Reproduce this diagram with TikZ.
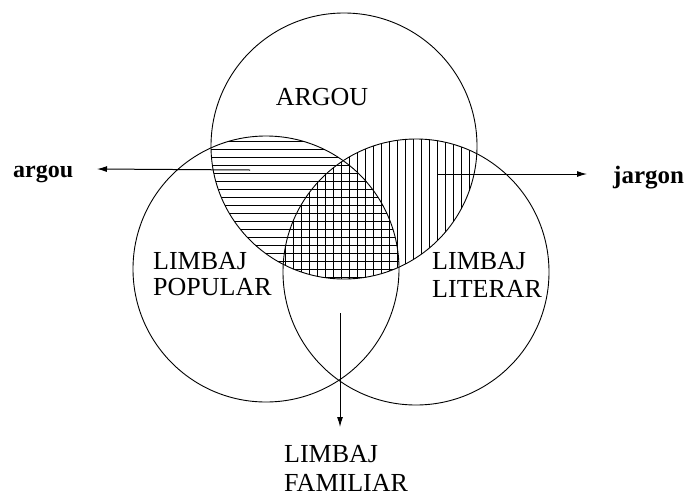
\documentclass[tikz,border=0pt]{standalone}
\usepackage{fontspec}
\setmainfont{Liberation Serif}
\usetikzlibrary{arrows.meta}
\begin{document}
\begin{tikzpicture}[x=1pt,y=-1pt,
  ring/.style={draw, line width=0.9pt},
  hatch/.style={line width=0.75pt},
  lbl/.style={inner sep=0pt, align=left},
  blbl/.style={inner sep=0pt, font=\bfseries\fontsize{24}{28}\selectfont},
  arr/.style={line width=1pt, -{Latex[length=10pt,width=6pt]}}]
\useasboundingbox (0,0) rectangle (690,496);
% centres
\coordinate (cA) at (344,146);
\coordinate (cL) at (266,269);
\coordinate (cR) at (416,272);
% horizontal hatching: ARGOU and POPULAR
\begin{scope}
  \clip (cA) circle[radius=133pt];
  \clip (cL) circle[radius=133pt];
  \foreach \y in {141,149,...,285} \draw[hatch] (120,\y) -- (430,\y);
\end{scope}
% vertical hatching: ARGOU and LITERAR
\begin{scope}
  \clip (cA) circle[radius=133pt];
  \clip (cR) circle[radius=133pt];
  \foreach \x in {285,293,...,480} \draw[hatch] (\x,130) -- (\x,290);
\end{scope}
% circles
\draw[ring] (cA) circle[radius=133pt];
\draw[ring] (cL) circle[radius=133pt];
\draw[ring] (cR) circle[radius=133pt];
% labels
\node[lbl, font=\fontsize{26}{30}\selectfont] (argouC) at (322,97) {ARGOU};
\node[lbl, anchor=north west, font=\fontsize{26}{26}\selectfont] (pop) at (153,252) {LIMBAJ\\POPULAR};
\node[lbl, anchor=north west, font=\fontsize{26}{28}\selectfont] (lit) at (432,252) {LIMBAJ\\LITERAR};
\node[lbl, anchor=north west, font=\fontsize{26}{29}\selectfont] (fam) at (284,445) {LIMBAJ\\FAMILIAR};
\node[blbl, anchor=base west] (argou) at (13,177) {argou};
\node[blbl, anchor=base west, font=\bfseries\fontsize{25}{28}\selectfont] (jargon) at (613,183) {jargon};
% arrows
\coordinate (aS) at (250,170);
\coordinate (aE) at (97,169);
\coordinate (jS) at (437,174);
\coordinate (jE) at (587,174);
\coordinate (fS) at (340,313);
\coordinate (fE) at (340,427);
\draw[arr] (aS) -- (aE);
\draw[arr] (jS) -- (jE);
\draw[arr] (fS) -- (fE);
\end{tikzpicture}
\end{document}
